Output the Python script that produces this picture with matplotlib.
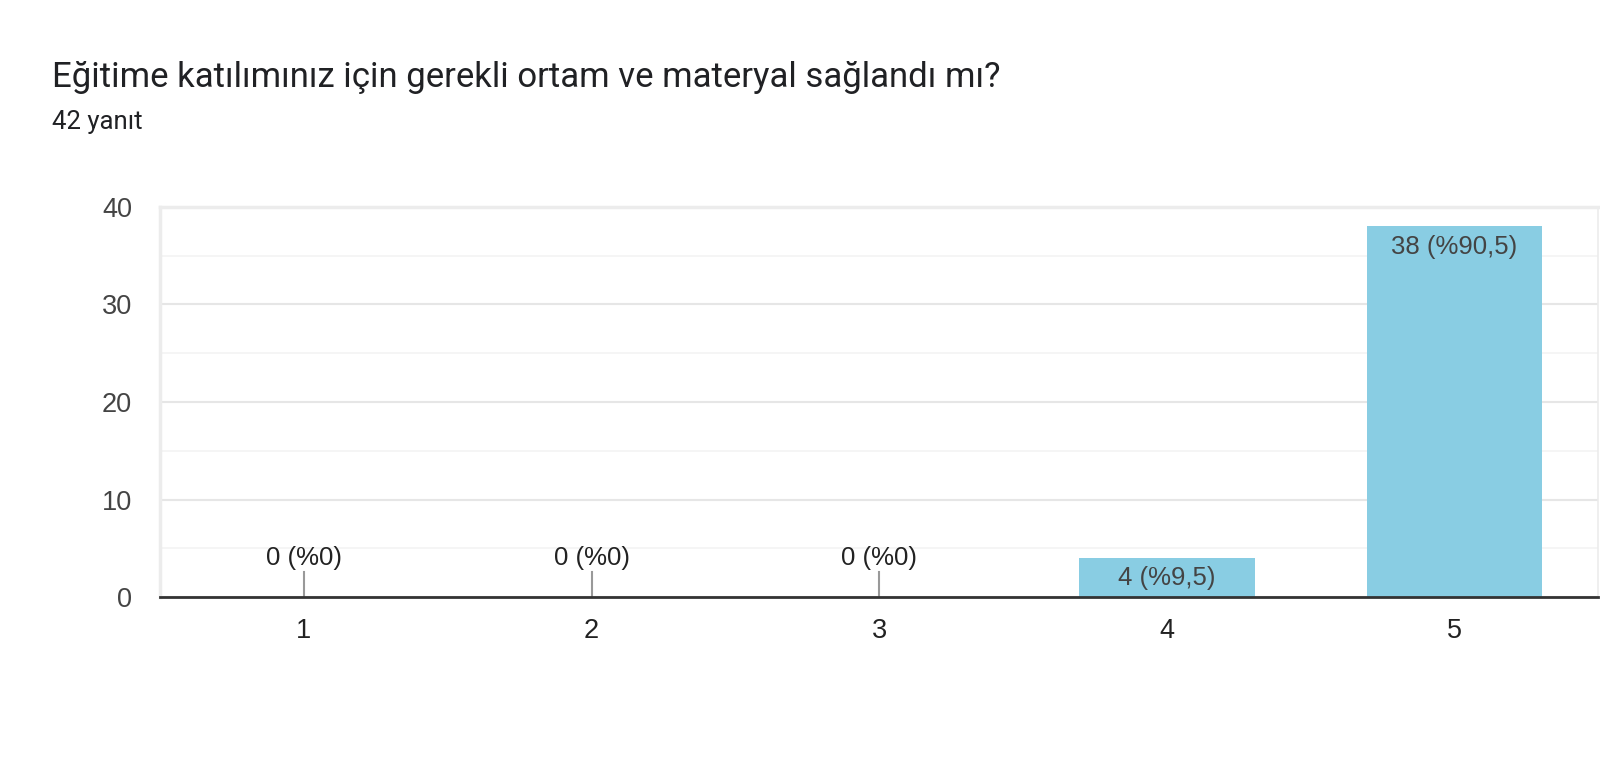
import matplotlib.pyplot as plt

categories = ['1', '2', '3', '4', '5']
counts = [0, 0, 0, 4, 38]
total = 42
title = 'Eğitime katılımınız için gerekli ortam ve materyal sağlandı mı?'
subtitle = '42 yanıt'

bar_color = '#89cde3'
text_color = '#444444'
frame_color = '#ececec'

plt.rcParams['font.family'] = ['Liberation Sans', 'DejaVu Sans']

fig = plt.figure(figsize=(16, 7.61), dpi=100)
ax = fig.add_axes([0.1, 0.2155, 0.899, 0.5125])

x = list(range(1, len(categories) + 1))
ax.bar(x, counts, width=0.61, color=bar_color, zorder=3)

for xi, c in zip(x, counts):
    pct = f'{c / total * 100:.1f}'.replace('.', ',')
    if pct.endswith(',0'):
        pct = pct[:-2]
    label = f'{c} (%{pct})'
    if c == 0:
        ax.plot([xi, xi], [0, 2.6], color='#999999', lw=1.5, zorder=3)
        ax.text(xi, 4.0, label, ha='center', va='center', fontsize=18.5, color='#222222')
    else:
        ax.annotate(label, (xi, c), xytext=(0, -6), textcoords='offset points',
                    ha='center', va='top', fontsize=18.5, color=text_color, zorder=4)

ax.set_xlim(0.5, 5.5)
ax.set_ylim(0, 40)
ax.set_yticks([0, 10, 20, 30, 40])
ax.set_yticks([5, 15, 25, 35], minor=True)
ax.set_xticks(x)
ax.set_xticklabels(categories)
ax.grid(axis='y', which='major', color='#e6e6e6', lw=1.5, zorder=0)
ax.grid(axis='y', which='minor', color='#f3f3f3', lw=1.2, zorder=0)
ax.tick_params(axis='both', which='both', length=0)
ax.tick_params(axis='y', pad=20, labelsize=19.5, labelcolor=text_color)
ax.tick_params(axis='x', pad=15, labelsize=19.5, labelcolor='#222222')

ax.spines['top'].set_color(frame_color)
ax.spines['top'].set_linewidth(2.5)
ax.spines['left'].set_color(frame_color)
ax.spines['left'].set_linewidth(2.5)
ax.spines['right'].set_color(frame_color)
ax.spines['right'].set_linewidth(1.2)
ax.spines['bottom'].set_color('#333333')
ax.spines['bottom'].set_linewidth(2)
ax.spines['bottom'].set_zorder(5)

fig.text(52 / 1600, 1 - 77 / 761, title, fontsize=25, color='#202124',
         family=['Roboto', 'DejaVu Sans'], va='center')
fig.text(52 / 1600, 1 - 122 / 761, subtitle, fontsize=18.5, color='#202124',
         family=['Roboto', 'DejaVu Sans'], va='center')

fig.savefig('out.png', dpi=100, facecolor='white')
